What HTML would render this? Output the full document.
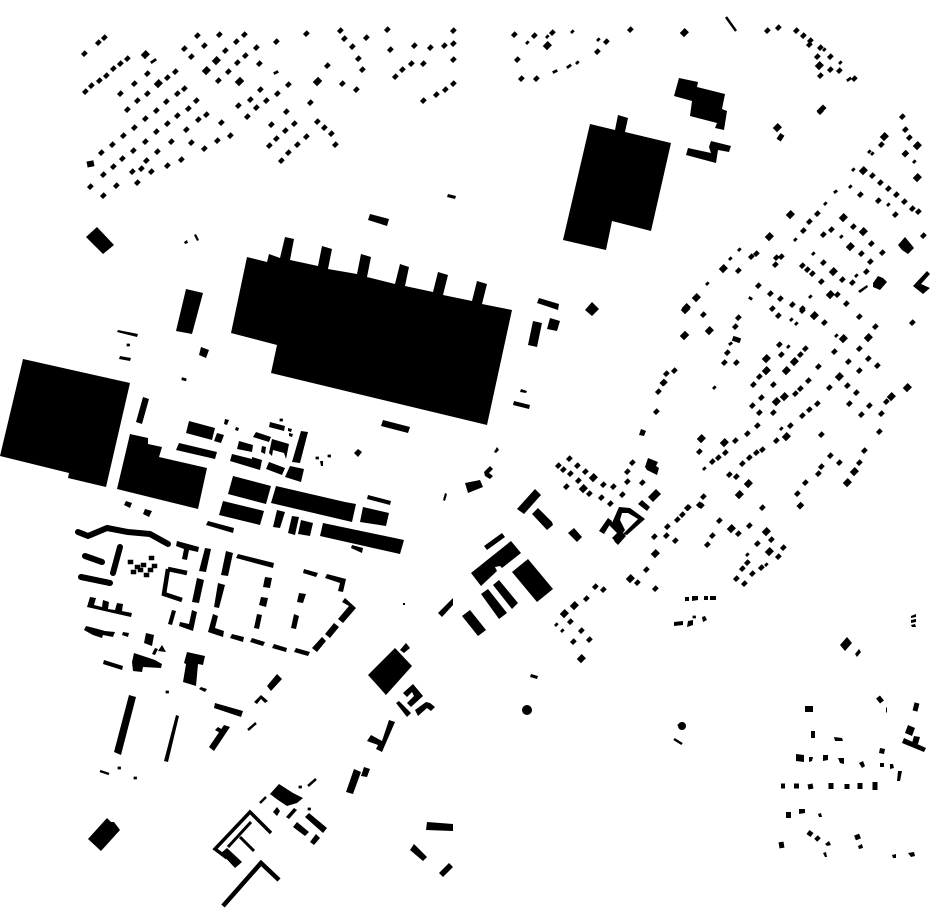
<!DOCTYPE html>
<html><head><meta charset="utf-8"><style>html,body{margin:0;padding:0;background:#fff}svg{display:block}</style></head><body>
<svg xmlns="http://www.w3.org/2000/svg" width="930" height="924" viewBox="0 0 930 924">
<rect width="930" height="924" fill="#fff"/>
<g fill="none" stroke="#000" stroke-linecap="square">
<path stroke-width="4.3" d="M84 54l.7-.7M98 43l.7-.7M104 38l.7-.7M85 92l.7-.7M91 86l.7-.7M99 81l.7-.7M106 76l.7-.7M113 69l.7-.7M120 64l.7-.7M127 59l.7-.7M147 74l.7-.7M134 84l.7-.7M120 94l.7-.7M167 78l.7-.7M175 72l.7-.7M184 89l.7-.7M177 94l.7-.7M147 94l.7-.7M137 101l.7-.7M127 110l.7-.7M166 102l.7-.7M156 111l.7-.7M196 101l.7-.7M188 109l.7-.7M177 116l.7-.7M167 124l.7-.7M156 132l.7-.7M145 119l.7-.7M134 128l.7-.7M123 136l.7-.7M112 145l.7-.7M101 153l.7-.7M145 142l.7-.7M133 151l.7-.7M122 159l.7-.7M113 167l.7-.7M103 175l.7-.7M90 187l.7-.7M103 196l.7-.7M116 186l.7-.7M137 183l.7-.7M132 172l.7-.7M141 169l.7-.7M151 172l.7-.7M146 161l.7-.7M157 152l.7-.7M171 142l.7-.7M186 130l.7-.7M198 120l.7-.7M206 115l.7-.7M221 123l.7-.7M191 143l.7-.7M204 149l.7-.7M217 141l.7-.7M230 136l.7-.7M181 160l.7-.7M167 166l.7-.7M197 36l.7-.7M219 35l.7-.7M244 35l.7-.7M236 42l.7-.7M184 49l.7-.7M204 46l.7-.7M191 57l.7-.7M225 51l.7-.7M256 48l.7-.7M245 56l.7-.7M237 63l.7-.7M259 64l.7-.7M228 72l.7-.7M218 81l.7-.7M276 42l.7-.7M306 34l.7-.7M288 85l.7-.7M277 94l.7-.7M260 90l.7-.7M250 100l.7-.7M266 101l.7-.7M238 106l.7-.7M256 108l.7-.7M247 117l.7-.7M310 103l.7-.7M286 112l.7-.7M271 125l.7-.7M294 124l.7-.7M285 131l.7-.7M276 139l.7-.7M269 146l.7-.7M306 137l.7-.7M297 145l.7-.7M288 153l.7-.7M281 161l.7-.7M317 122l.7-.7M324 128l.7-.7M331 134l.7-.7M335 145l.7-.7M327 66l.7-.7M342 84l.7-.7M356 90l.7-.7M340 31l.7-.7M344 39l.7-.7M352 47l.7-.7M358 59l.7-.7M362 70l.7-.7M366 38l.7-.7M387 30l.7-.7M390 50l.7-.7M414 46l.7-.7M430 48l.7-.7M444 46l.7-.7M453 31l.7-.7M453 44l.7-.7M411 64l.7-.7M423 64l.7-.7M453 60l.7-.7M402 70l.7-.7M395 77l.7-.7M423 101l.7-.7M436 95l.7-.7M445 90l.7-.7M453 84l.7-.7M820 112l.7-.7M902 117l.7-.7M905 130l.7-.7M881 145l.7-.7M909 138l.7-.7M872 176l.7-.7M880 183l.7-.7M888 189l.7-.7M896 195l.7-.7M904 202l.7-.7M912 209l.7-.7M918 212l.7-.7M860 195l.7-.7M878 201l.7-.7M895 215l.7-.7M817 214l.7-.7M809 222l.7-.7M803 231l.7-.7M853 227l.7-.7M831 230l.7-.7M823 235l.7-.7M871 244l.7-.7M882 253l.7-.7M861 254l.7-.7M756 254l.7-.7M751 257l.7-.7M781 257l.7-.7M776 258l.7-.7M775 265l.7-.7M738 271l.7-.7M758 286l.7-.7M770 294l.7-.7M780 299l.7-.7M792 305l.7-.7M802 309l.7-.7M772 309l.7-.7M802 266l.7-.7M807 270l.7-.7M812 274l.7-.7M823 263l.7-.7M821 282l.7-.7M842 280l.7-.7M852 283l.7-.7M866 272l.7-.7M870 262l.7-.7M837 295l.7-.7M846 304l.7-.7M923 236l.7-.7M703 315l.7-.7M738 318l.7-.7M735 327l.7-.7M727 353l.7-.7M724 363l.7-.7M736 363l.7-.7M674 371l.7-.7M666 374l.7-.7M664 383l.7-.7M658 392l.7-.7M656 412l.7-.7M778 316l.7-.7M802 311l.7-.7M824 323l.7-.7M859 317l.7-.7M875 327l.7-.7M912 323l.7-.7M779 345l.7-.7M781 355l.7-.7M805 349l.7-.7M800 355l.7-.7M759 377l.7-.7M753 385l.7-.7M773 385l.7-.7M761 398l.7-.7M752 406l.7-.7M759 413l.7-.7M773 413l.7-.7M795 394l.7-.7M800 389l.7-.7M808 381l.7-.7M818 367l.7-.7M834 352l.7-.7M859 349l.7-.7M848 362l.7-.7M868 359l.7-.7M877 366l.7-.7M859 371l.7-.7M847 386l.7-.7M829 388l.7-.7M856 393l.7-.7M817 404l.7-.7M809 410l.7-.7M802 416l.7-.7M849 404l.7-.7M869 406l.7-.7M861 415l.7-.7M881 414l.7-.7M886 402l.7-.7M879 432l.7-.7M790 426l.7-.7M776 441l.7-.7M821 435l.7-.7M757 426l.7-.7M747 434l.7-.7M735 441l.7-.7M699 452l.7-.7M725 453l.7-.7M718 458l.7-.7M712 462l.7-.7M762 450l.7-.7M756 453l.7-.7M749 458l.7-.7M742 464l.7-.7M729 475l.7-.7M736 477l.7-.7M864 451l.7-.7M830 456l.7-.7M839 463l.7-.7M859 463l.7-.7M821 467l.7-.7M818 474l.7-.7M805 483l.7-.7M797 494l.7-.7M703 497l.7-.7M699 505l.7-.7M687 508l.7-.7M762 508l.7-.7M569 459l.7-.7M558 466l.7-.7M563 470l.7-.7M577 466l.7-.7M570 474l.7-.7M585 472l.7-.7M578 481l.7-.7M566 487l.7-.7M589 494l.7-.7M601 498l.7-.7M603 485l.7-.7M613 487l.7-.7M610 504l.7-.7M622 495l.7-.7M627 482l.7-.7M627 472l.7-.7M632 463l.7-.7M642 483l.7-.7M654 537l.7-.7M667 527l.7-.7M666 536l.7-.7M675 541l.7-.7M677 520l.7-.7M682 515l.7-.7M688 508l.7-.7M701 506l.7-.7M646 570l.7-.7M637 583l.7-.7M655 589l.7-.7M719 521l.7-.7M738 534l.7-.7M749 526l.7-.7M712 536l.7-.7M707 545l.7-.7M771 540l.7-.7M757 544l.7-.7M783 548l.7-.7M778 557l.7-.7M747 563l.7-.7M742 569l.7-.7M752 574l.7-.7M761 568l.7-.7M736 579l.7-.7M744 584l.7-.7M595 587l.7-.7M603 590l.7-.7M586 599l.7-.7M570 622l.7-.7M581 631l.7-.7M589 640l.7-.7M573 642l.7-.7M514 35l.7-.7M534 36l.7-.7M552 33l.7-.7M606 42l.7-.7M597 52l.7-.7M630 30l.7-.7M517 60l.7-.7M521 79l.7-.7M536 79l.7-.7M767 31l.7-.7M778 28l.7-.7M796 31l.7-.7M803 36l.7-.7M810 41l.7-.7M809 45l.7-.7M820 48l.7-.7M817 57l.7-.7M830 57l.7-.7M830 70l.7-.7M839 71l.7-.7M820 76l.7-.7M854 79l.7-.7"/>
<path stroke-width="2.8" d="M152 62l3-2M275 73l2-1M853 170l.7-.7M869 152l.7-.7M872 154l.7-.7M914 162l.7-.7M835 192l1-.7M850 187l.7-.7M888 205l.7-.7M825 204l.7-.7M841 237l.7-.7M813 254l.7-.7M795 240l.7-.7M739 250l.7-.7M730 259l.7-.7M707 284l.7-.7M750 298l1 .7M730 344l1-.7M796 324l.7-.7M836 336l.7-.7M788 347l.7-.7M791 320l.7-.7M714 388l.7-.7M781 429l.7-.7M704 469l.7-.7M856 276l.7-.7M810 297l.7-.7M747 555l.7-.7M766 565l.7-.7M556 625l.7-.7M562 631l.7-.7M527 43l.7-.7M547 37l.7-.7M572 32l.7-.7M598 40l.7-.7M554 72l2-1M568 67l2-1.4M577 63l.7-.7M824 50l.7-.7M840 63l.7-.7M848 80l2-1.4M119 768l.5 0M135 778l.5 0M167 692l.5 0M281 420l.5 0M300 787l.5 0M309 809l.5 0M317 458l.5 0M329 456l.5 0M183 379l2 .5M128 345l.5 0M694 617l.5 0"/>
<path stroke-width="6" d="M145 55l.7-.7M158 84l.7-.7M216 61l.7-.7M884 137l.7-.7M917 146l.7-.7M863 171l.7-.7M917 178l.7-.7M790 215l.7-.7M843 218l.7-.7M863 232l.7-.7M850 247l.7-.7M769 237l.7-.7M723 269l.7-.7M696 298l.7-.7M686 308l.7-.7M833 272l.7-.7M830 295l.7-.7M709 331l.7-.7M766 359l.7-.7M766 371l.7-.7M794 362l.7-.7M786 371l.7-.7M776 402l.7-.7M784 397l.7-.7M839 377l.7-.7M843 339l.7-.7M868 338l.7-.7M814 316l.7-.7M891 397l.7-.7M907 388l.7-.7M786 437l.7-.7M701 439l.7-.7M724 443l.7-.7M748 484l.7-.7M739 495l.7-.7M854 472l.7-.7M847 483l.7-.7M593 478l.7-.7M583 489l.7-.7M655 554l.7-.7M630 579l.7-.7M731 529l.7-.7M766 532l.7-.7M769 552l.7-.7M574 606l.7-.7M564 614l.7-.7M581 659l.7-.7M547 46l.7-.7M819 66l.7-.7M684 33l.7-.7M777 128l.7-.7M206 71l.7-.7M239 82l1-1M317 82l1-1M90 164l1-.2M685 310l1-1M684 336l1-1"/>
<path stroke-width="5" d="M780 138l1-1.5M905 154l.7-.7M735 339l3 1M820 111l3-3M663 383l.7-.7M800 506l.7-.7"/>
<path stroke-width="2.5" stroke-linecap="butt" d="M726 17l10 14M674 739l8 5M100 771l9 3M248 730l8-7M308 786l8-7M260 803l6-6"/>
<path stroke-width="5" stroke-linecap="butt" d="M781 786h4M794 786h5M808 787l5-1M831 783v6M847 784v5M860 783v6M875 782v8M808 832l4 3M816 837l3 3M855 838l5-2M781 842l1 6M878 697l4 5M917 703l-2 8M886 710h1"/>
<path stroke-width="6" stroke-linecap="butt" d="M805 709h8M811 734l4 0"/>
<path stroke-width="6" stroke-linecap="round" stroke-linejoin="round" d="M78 532l10 4 19-8 21 4 22 2 18 10M85 556l17 6M120 547l-7 26M81 577l29 6"/>
<path stroke-width="4.5" d="M130 562h1M137 567h1M133 572h1M143 565h1M151 558h1M154 566h1M150 570h1M146 575h1M140 570h1"/>
<path stroke-width="3.5" stroke-linecap="butt" stroke-linejoin="miter" d="M271 833l-21-21-35 37 12 9"/>
<path stroke-width="3" stroke-linecap="butt" d="M251 822l-23 25M240 837l14 14"/>
<path stroke-width="4.5" stroke-linecap="butt" stroke-linejoin="miter" d="M223 906l38-43 18 17"/>
<path stroke-width="4.5" stroke-linecap="butt" stroke-linejoin="miter" d="M168 569l19 4M168 569l-4 25 18 6"/>
</g>
<g fill="#000">
<polygon points="23,359 130,383 106,487 68,478 69,473 0,456"/>
<polygon points="247,257 267,262 269,254 280,258 285,237 294,239 290,260 318,266 322,246 332,249 328,269 357,274 361,254 371,257 367,277 395,284 400,264 409,267 405,286 433,292 438,272 448,275 443,295 472,301 477,281 487,284 482,304 512,310 487,425 271,373 277,345 231,333"/>
<polygon points="590,124 615,130 618,115 628,118 625,132 671,143 651,231 612,221 606,250 563,240"/>
<polygon points="679,78 698,82 697,87 725,94 722,109 727,111 724,130 715,128 717,123 690,116 692,101 674,96"/>
<polygon points="686,155 688,148 711,153 709,147 711,141 731,146 729,152 718,150 716,163"/>
<polygon points="130,434 148,438 148,444 162,447 159,457 207,468 198,509 117,489"/>
<polygon points="186,433 189,421 215,428 212,440"/>
<polygon points="214,441 217,433 224,435 221,443"/>
<polygon points="176,450 179,443 217,452 215,459"/>
<polygon points="224,424 225,419 229,420 227,425"/>
<polygon points="235,430 236,427 239,428 238,431"/>
<polygon points="237,449 239,441 253,445 252,452"/>
<polygon points="253,437 256,432 271,437 269,442"/>
<polygon points="261,452 262,446 266,447 265,454"/>
<polygon points="269,427 270,422 285,426 284,431"/>
<polygon points="288,428 292,429 291,432 288,431"/>
<polygon points="289,433 293,434 292,437 289,436"/>
<polygon points="269,453 272,439 289,444 286,459 284,453 273,450 272,456"/>
<polygon points="292,462 301,431 308,432 300,463"/>
<polygon points="230,461 232,454 252,459 252,457 262,460 260,470"/>
<polygon points="266,469 269,462 285,468 282,475"/>
<polygon points="285,477 290,466 304,469 301,482"/>
<polygon points="228,494 233,476 271,486 266,504"/>
<polygon points="271,503 276,486 345,502 356,504 352,522"/>
<polygon points="219,515 223,501 264,511 260,525"/>
<polygon points="206,525 208,521 234,528 233,533"/>
<polygon points="367,499 368,495 391,501 390,505"/>
<polygon points="360,522 363,507 389,513 386,526"/>
<polygon points="273,527 277,510 285,512 280,528"/>
<polygon points="288,533 292,516 299,517 295,535"/>
<polygon points="298,534 301,520 313,523 310,536"/>
<polygon points="320,536 323,523 404,540 400,554"/>
<polygon points="351,548 352,545 363,548 362,553"/>
<polygon points="381,426 383,420 410,427 408,433"/>
<polygon points="354,453 358,449 362,452 358,457"/>
<polygon points="320,461 323,461 323,466 321,466"/>
<polygon points="124,505 126,501 132,503 130,508"/>
<polygon points="143,514 145,509 152,511 149,517"/>
<polygon points="136,422 143,397 149,399 142,424"/>
<polygon points="176,331 186,289 203,293 192,334"/>
<polygon points="368,220 370,214 389,219 387,226"/>
<polygon points="447,197 448,194 456,196 455,199"/>
<polygon points="86,237 97,227 114,245 103,254"/>
<polygon points="184,242 187,240 188,243 185,244"/>
<polygon points="194,235 196,234 199,240 197,241"/>
<polygon points="117,332 118,330 138,334 137,337"/>
<polygon points="119,359 120,356 131,358 130,361"/>
<polygon points="199,355 201,347 209,350 206,358"/>
<polygon points="537,303 539,298 559,304 558,310"/>
<polygon points="528,345 533,321 542,323 537,347"/>
<polygon points="547,329 550,318 560,321 557,331"/>
<polygon points="585,310 592,302 599,309 592,316"/>
<polygon points="513,405 514,401 530,405 529,409"/>
<polygon points="520,392 521,389 527,391 526,393"/>
<polygon points="639,435 641,429 646,431 644,436"/>
<polygon points="517,509 535,489 541,495 524,514"/>
<polygon points="532,514 538,508 552,522 553,525 547,530"/>
<polygon points="568,533 574,528 582,537 577,542"/>
<polygon points="484,546 502,533 505,537 487,550"/>
<polygon points="471,573 511,541 521,553 502,568 500,566 495,567 497,571 481,586"/>
<polygon points="512,572 528,559 553,589 537,602"/>
<polygon points="493,585 499,580 518,603 512,609"/>
<polygon points="481,594 488,589 507,613 499,619"/>
<polygon points="462,616 470,610 486,630 478,636"/>
<polygon points="438,613 452,599 453,598 453,605 442,617"/>
<polygon points="465,483 480,480 483,487 468,493"/>
<polygon points="484,472 490,466 493,469 489,473 493,476 490,479 485,476"/>
<polygon points="443,500 445,493 447,494 445,501"/>
<polygon points="494,452 497,447 499,450 496,453"/>
<polygon points="599,531 608,518 612,521 604,534"/>
<polygon points="608,518 623,533 615,541 612,538 617,533 609,525 604,534"/>
<polygon points="612,523 619,507 630,508 645,519 627,535 623,534 638,519 628,513 622,513 620,520 625,530 623,533"/>
<polygon points="614,541 623,533 626,536 618,545"/>
<polygon points="645,467 648,458 658,462 656,466 659,468 657,475 647,470"/>
<polygon points="648,497 656,489 661,494 653,502"/>
<polygon points="638,504 642,500 650,507 647,511"/>
<polygon points="176,546 177,541 199,547 198,552 189,550 187,560 182,559 184,549"/>
<polygon points="199,571 205,548 211,549 206,572"/>
<polygon points="221,575 226,551 233,553 228,576"/>
<polygon points="236,558 238,554 274,563 273,568"/>
<polygon points="263,587 265,577 272,578 270,588"/>
<polygon points="303,573 304,569 318,573 316,577"/>
<polygon points="325,578 327,574 346,579 343,592 338,591 340,583"/>
<polygon points="297,602 299,593 306,594 303,603"/>
<polygon points="291,628 294,614 299,616 296,629"/>
<polygon points="259,605 261,597 268,598 266,607"/>
<polygon points="254,628 257,614 262,615 259,629"/>
<polygon points="230,638 232,634 244,637 243,642"/>
<polygon points="250,642 252,638 265,642 263,646"/>
<polygon points="272,648 274,644 287,648 286,652"/>
<polygon points="294,652 296,648 310,652 308,656"/>
<polygon points="312,648 322,637 326,641 317,652"/>
<polygon points="325,634 334,623 339,627 330,638"/>
<polygon points="338,619 349,606 342,602 345,598 356,608 343,623"/>
<polygon points="208,632 213,614 218,616 215,628 224,631 223,637"/>
<polygon points="214,607 218,583 225,585 219,608"/>
<polygon points="192,602 197,578 204,580 199,603"/>
<polygon points="168,624 172,610 176,611 172,625"/>
<polygon points="179,626 180,622 189,624 192,610 197,612 193,631"/>
<polygon points="87,607 90,597 96,598 94,605 102,607 103,600 109,602 108,609 115,610 117,603 123,604 122,611 132,613 131,617"/>
<polygon points="84,630 86,626 94,628 105,631 115,632 113,637 103,635 102,638 93,635"/>
<polygon points="122,635 123,632 129,633 128,637"/>
<polygon points="144,643 146,633 154,635 152,646"/>
<polygon points="152,654 155,648 158,649 155,655"/>
<polygon points="158,651 162,645 166,652"/>
<polygon points="132,662 134,653 143,656 155,660 162,664 161,668 143,667 142,672 133,671"/>
<polygon points="103,664 104,660 123,666 122,670"/>
<polygon points="184,663 187,652 205,656 203,665 198,664 196,686 183,682 186,664"/>
<polygon points="199,689 201,687 207,689 205,692"/>
<polygon points="267,686 277,674 282,679 271,691"/>
<polygon points="254,702 261,695 268,701 265,703 261,699 257,704"/>
<polygon points="214,708 215,703 243,711 241,717"/>
<polygon points="114,752 129,695 136,697 121,755"/>
<polygon points="164,761 176,715 179,716 168,762"/>
<polygon points="209,747 224,725 230,727 214,751"/>
<polygon points="215,730 218,727 223,730 220,733"/>
<polygon points="88,839 107,818 111,822 114,822 120,830 101,851"/>
<polygon points="270,794 279,784 293,793 303,798 297,803 287,806 278,800"/>
<polygon points="273,812 277,807 280,811 277,816"/>
<polygon points="286,817 294,808 297,810 289,819"/>
<polygon points="305,817 309,813 327,828 323,833"/>
<polygon points="293,827 297,822 309,832 305,836"/>
<polygon points="310,842 316,834 320,838 314,845"/>
<polygon points="221,853 227,848 242,862 235,868"/>
<polygon points="427,822 453,824 453,831 426,830"/>
<polygon points="410,850 414,844 427,857 423,861"/>
<polygon points="439,873 449,863 453,867 443,877"/>
<polygon points="346,792 354,769 361,772 353,794"/>
<polygon points="361,776 364,767 370,769 367,777"/>
<polygon points="367,741 371,735 382,741 389,720 395,722 382,752 376,749 378,745"/>
<polygon points="396,703 399,701 411,713 407,717"/>
<polygon points="403,693 413,684 423,696 411,707 407,703 414,696 412,692 407,697"/>
<polygon points="415,710 426,702 430,703 435,707 431,711 427,708 418,716"/>
<polygon points="368,675 395,648 412,666 386,695"/>
<polygon points="400,650 406,643 410,648 404,653"/>
<polygon points="530,677 531,674 538,676 537,679"/>
<circle cx="527" cy="710" r="5"/>
<rect x="403" y="603" width="2" height="2"/>
<circle cx="682" cy="726" r="4"/>
<polygon points="677,725 681,723 681,728"/>
<polygon points="840,645 847,637 852,643 845,651"/>
<polygon points="855,654 859,649 861,652 857,657"/>
<polygon points="902,743 904,738 926,748 924,752"/>
<polygon points="905,733 908,725 915,728 912,736"/>
<polygon points="912,743 914,736 920,737 918,744"/>
<polygon points="879,753 880,748 885,749 884,754"/>
<polygon points="796,761 796,754 804,755 804,762"/>
<polygon points="809,762 809,757 813,757 812,761"/>
<polygon points="823,761 823,755 828,755 828,760"/>
<polygon points="838,758 844,758 844,764 840,763"/>
<polygon points="859,763 863,761 865,766 862,768"/>
<polygon points="880,763 884,763 884,767 880,767"/>
<polygon points="890,764 893,764 894,768 890,769"/>
<polygon points="898,771 902,771 900,781 897,781"/>
<polygon points="811,738 812,731 815,732 815,738"/>
<polygon points="834,737 842,738 843,741 835,741"/>
<polygon points="786,818 786,812 791,812 791,818"/>
<polygon points="799,814 799,809 805,809 805,813"/>
<polygon points="818,814 821,813 822,817 819,817"/>
<polygon points="825,844 829,841 831,845 827,846"/>
<polygon points="823,853 826,852 827,857 825,857"/>
<polygon points="858,846 862,844 863,848 859,849"/>
<polygon points="892,855 896,854 896,858 893,858"/>
<polygon points="908,853 914,852 915,856 911,857"/>
<polygon points="911,616 916,614 916,617 911,618"/>
<polygon points="911,620 916,619 916,622 911,623"/>
<polygon points="911,625 915,624 916,627 912,627"/>
<polygon points="685,601 685,597 689,597 689,601"/>
<polygon points="692,601 692,596 698,596 698,600"/>
<polygon points="704,600 704,596 708,596 708,600"/>
<polygon points="710,600 710,596 716,596 716,600"/>
<polygon points="674,626 674,622 683,621 683,625"/>
<polygon points="687,627 688,621 693,620 693,625"/>
<polygon points="702,617 705,616 707,620 703,622"/>
<polygon points="913,286 927,271 930,274 921,284 930,288 923,294"/>
<polygon points="898,245 905,237 910,243 914,248 908,254 902,250"/>
<polygon points="858,291 867,285 868,287 860,293"/>
<polygon points="873,283 878,276 883,278 887,282 880,290 873,287"/>
</g>
</svg>
</body></html>
